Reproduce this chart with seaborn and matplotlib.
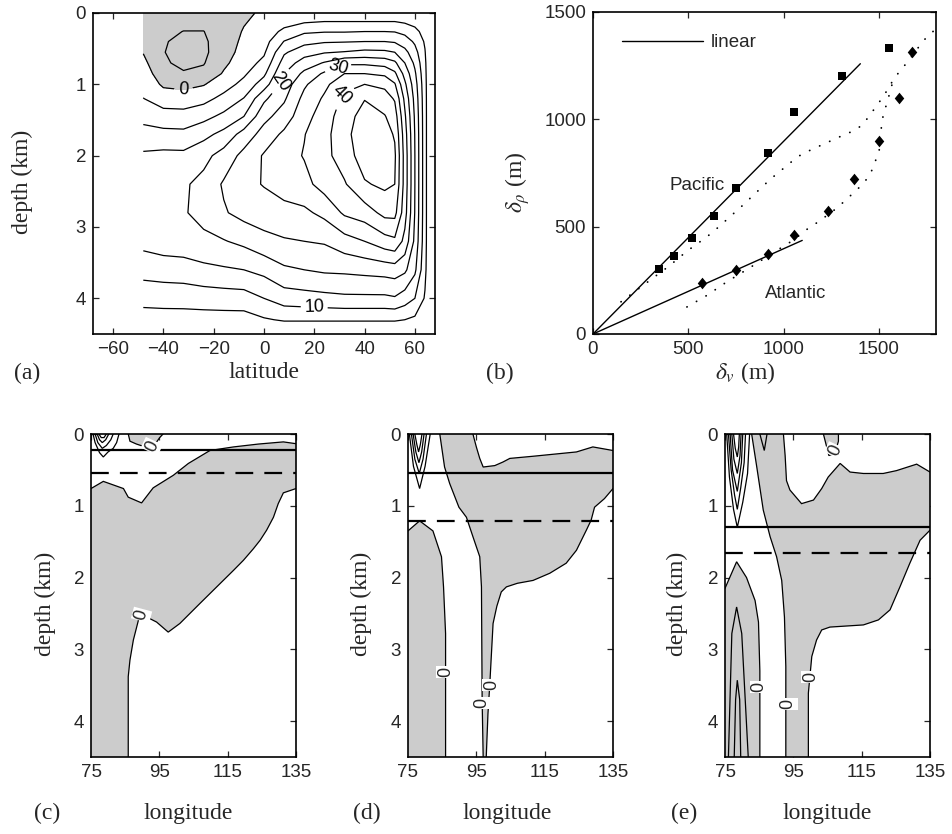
import numpy as np
import pandas as pd
import matplotlib
matplotlib.use("Agg")
import matplotlib.pyplot as plt
import seaborn as sns

# ---------------- (a) overturning streamfunction (Sv) on a coarse grid ----------------
lat_a = [-48, -40, -32, -24, -16, -8, 0, 8, 16, 24, 32, 40, 48, 52, 56, 60, 64, 66]
dep_a = [0, 0.12, 0.26, 0.4, 0.55, 0.7, 0.85, 1.0, 1.2, 1.45, 1.7, 2.0, 2.4, 2.8, 3.2, 3.6, 4.0, 4.3, 4.5]
# one column per latitude, values from the surface to the bottom
psi_a_cols = [
    [-1.5, -2.2, -2.5, -2.0, -0.2, 1.2, 2.4, 3.4, 5.1, 8.5, 11.8, 15.8, 18.0, 18.5, 16.5, 12.0, 6.5, 3.0, 0.3],
    [-1.5, -2.8, -3.8, -4.5, -4.8, -4.3, -2.8, -0.8, 2.6, 7.0, 11.5, 16.3, 18.5, 19.0, 17.5, 12.5, 6.8, 3.0, 0.3],
    [-1.5, -3.5, -5.1, -6.5, -7.0, -6.2, -4.5, -1.5, 2.4, 6.8, 11.3, 16.2, 19.3, 19.5, 17.8, 12.8, 6.9, 3.0, 0.3],
    [-1.5, -3.5, -5.1, -5.8, -6.0, -5.3, -3.8, -0.3, 3.4, 8.5, 13.5, 18.5, 21.5, 21.8, 18.7, 13.8, 7.3, 3.0, 0.3],
    [-1.0, -1.8, -2.2, -2.3, -2.0, -1.0, 0.5, 2.8, 6.5, 11.2, 16.5, 22.0, 25.6, 24.5, 19.7, 14.4, 7.6, 3.0, 0.3],
    [-0.6, -0.3, 0.3, 0.9, 1.6, 2.6, 4.2, 6.5, 10.2, 15.0, 22.0, 26.5, 28.5, 26.7, 21.2, 15.0, 7.8, 3.0, 0.3],
    [0.5, 1.2, 2.0, 3.0, 4.3, 6.3, 9.0, 12.5, 19.0, 23.5, 27.0, 30.5, 30.3, 27.5, 23.5, 16.5, 10.0, 4.5, 0.3],
    [0.5, 3.0, 6.2, 10.2, 14.3, 17.2, 20.0, 22.3, 24.3, 27.3, 31.0, 33.0, 32.0, 28.5, 24.5, 19.2, 12.5, 5.5, 0.3],
    [0.5, 4.4, 9.2, 13.5, 18.0, 22.2, 26.2, 29.2, 31.5, 33.3, 34.8, 35.3, 33.5, 29.0, 25.0, 20.0, 13.0, 5.5, 0.3],
    [0.5, 5.0, 9.7, 14.5, 19.6, 25.4, 30.8, 33.8, 35.7, 37.3, 38.3, 38.5, 37.0, 31.3, 25.5, 20.8, 13.5, 5.5, 0.3],
    [0.5, 5.0, 9.7, 14.7, 20.3, 29.0, 35.0, 38.4, 41.2, 43.0, 43.5, 42.5, 39.5, 35.8, 28.0, 21.0, 14.0, 5.5, 0.3],
    [0.5, 5.0, 10.0, 15.0, 21.3, 29.0, 35.0, 40.0, 44.8, 46.8, 48.0, 47.5, 44.5, 37.5, 30.0, 21.5, 14.0, 5.5, 0.3],
    [0.5, 5.0, 10.0, 15.0, 21.0, 28.0, 34.0, 38.8, 42.3, 45.3, 47.0, 47.5, 46.0, 41.5, 33.0, 22.0, 14.0, 5.5, 0.3],
    [0.5, 5.0, 9.8, 14.5, 20.0, 26.0, 31.0, 35.5, 39.5, 42.5, 44.5, 45.8, 45.0, 41.5, 34.0, 22.5, 14.5, 5.5, 0.3],
    [0.4, 4.3, 8.6, 12.5, 16.5, 20.0, 23.3, 26.0, 28.8, 30.8, 32.2, 33.0, 33.0, 32.0, 28.5, 21.0, 12.5, 5.0, 0.3],
    [0.3, 3.3, 6.4, 9.2, 11.8, 14.0, 15.8, 17.2, 18.4, 19.3, 19.8, 20.0, 20.0, 19.8, 18.8, 16.0, 10.0, 4.0, 0.3],
    [0.3, 1.7, 3.2, 4.4, 5.3, 6.0, 6.4, 6.7, 6.9, 7.0, 7.0, 7.0, 7.0, 7.0, 6.9, 6.3, 4.5, 2.0, 0.3],
    [0.3, 0.3, 0.3, 0.3, 0.3, 0.3, 0.3, 0.3, 0.3, 0.3, 0.3, 0.3, 0.3, 0.3, 0.3, 0.3, 0.3, 0.3, 0.3],
]
levels_a = [-5, 0, 5, 10, 15, 20, 25, 30, 35, 40, 45]
label_levels_a = [0, 10, 20, 30, 40]
label_lat_a = [-32, 20, 5.8, 29, 31]
label_dep_a = [1.1, 4.08, 0.94, 0.7, 1.15]

# ---------------- (b) delta_rho versus delta_v ----------------
pac_dv = [347, 427, 522, 635, 751, 917, 1054, 1306, 1551]
pac_dr = [302, 364, 447, 551, 679, 844, 1033, 1204, 1331]
atl_dv = [572, 749, 919, 1054, 1231, 1369, 1500, 1607, 1675]
atl_dr = [237, 296, 372, 461, 575, 723, 898, 1098, 1312]
pac_fit_dv = [0, 1403]
pac_fit_dr = [0, 1259]
atl_fit_dv = [0, 1098]
atl_fit_dr = [0, 436]
pac_dot_dv = [147, 300, 400, 493, 598, 647, 789, 837, 932, 1025, 1074, 1130, 1189, 1246,
              1303, 1361, 1414, 1451, 1488, 1524, 1558, 1577, 1616, 1658, 1705, 1747, 1789]
pac_dot_dr = [150, 251, 317, 386, 453, 489, 602, 643, 722, 790, 826, 852, 876, 899,
              922, 944, 973, 1018, 1062, 1108, 1155, 1188, 1230, 1276, 1332, 1379, 1413]
atl_dot_dv = [493, 598, 704, 809, 979, 1053, 1125, 1183, 1282, 1332, 1379, 1423, 1458,
              1481, 1502, 1514, 1524, 1542, 1560, 1577]
atl_dot_dr = [126, 180, 244, 301, 397, 438, 489, 523, 588, 629, 667, 705, 751,
              803, 857, 969, 1025, 1074, 1132, 1188]

# ---------------- (c) zero contours ----------------
c_top_lon = [75, 78.6, 84.5, 85.9, 89.8, 93.2, 99.1, 103.5, 109.8, 116.7, 124, 131.3, 135]
c_top_dep = [0.76, 0.66, 0.76, 0.88, 0.96, 0.75, 0.575, 0.41, 0.23, 0.18, 0.14, 0.11, 0.135]
c_bot_lon = [135, 131.3, 129.8, 128.4, 126.4, 124.5, 122.5, 119.6, 116.7, 111.8, 106.9,
             101, 97.6, 94.2, 91.3, 89.8, 88.9, 87.4, 86.4, 85.9, 85.9]
c_bot_dep = [0.76, 0.82, 0.97, 1.16, 1.34, 1.48, 1.6, 1.76, 1.9, 2.13, 2.36,
             2.64, 2.76, 2.62, 2.55, 2.52, 2.59, 2.87, 3.15, 3.38, 4.5]
c_patch_lon = [85.9, 86.4, 88.3, 90.2, 91.6, 93.5, 95.1, 96.1]
c_patch_dep = [0, 0.1, 0.14, 0.17, 0.23, 0.16, 0.05, 0]
c_jets_lon = [[75.6, 76.2, 77.5, 78.6, 80.0, 81.5, 82.5, 83.2],
              [76.2, 77.0, 78.3, 79.5, 80.8, 81.5],
              [76.8, 77.5, 78.3, 79.3, 80.2],
              [77.3, 78.0, 78.8, 79.5]]
c_jets_dep = [[0, 0.12, 0.26, 0.32, 0.25, 0.2, 0.12, 0],
              [0, 0.12, 0.2, 0.16, 0.08, 0],
              [0, 0.08, 0.12, 0.08, 0],
              [0, 0.05, 0.05, 0]]
c_label_lon = [89.8, 92.8]
c_label_dep = [2.52, 0.17]
c_label_rot = [75, 65]

# ---------------- (d) zero contours ----------------
d_left_lon = [75, 78.4, 82.3, 84.8, 85.4, 86, 86]
d_left_dep = [1.35, 1.21, 1.35, 1.71, 2.13, 2.78, 4.5]
d_cl_lon = [84.3, 85.7, 87.2, 89.9, 92.1, 94, 96, 96.5, 96.7, 97]
d_cl_dep = [0, 0.46, 0.69, 1.02, 1.16, 1.43, 1.71, 2.13, 3.71, 4.5]
d_cr_lon = [97.9, 98.4, 98.9, 99.9, 101, 102.3, 103.8, 107, 111.6, 116.5, 121.3, 124.3,
            127.2, 128.6, 129.6, 132.5, 135]
d_cr_dep = [4.5, 3.9, 3.52, 2.64, 2.4, 2.2, 2.13, 2.08, 2.04, 1.94, 1.8, 1.62,
            1.34, 1.2, 1.02, 0.9, 0.76]
d_ct_lon = [94, 95, 96, 97, 100.4, 102.8, 104.8, 111.6, 124.3, 129.1, 135]
d_ct_dep = [0, 0.18, 0.34, 0.46, 0.44, 0.39, 0.34, 0.31, 0.25, 0.18, 0.23]
d_jets_lon = [[75.4, 76.6, 78.4, 80.0, 81.5],
              [76.0, 77.0, 78.3, 79.4, 80.4],
              [76.5, 77.3, 78.2, 79.0, 79.7],
              [77.0, 77.6, 78.1, 78.6, 79.1]]
d_jets_dep = [[0, 0.45, 0.76, 0.45, 0],
              [0, 0.35, 0.55, 0.35, 0],
              [0, 0.25, 0.40, 0.25, 0],
              [0, 0.15, 0.25, 0.15, 0]]
d_label_lon = [86, 96.5, 99.4]
d_label_dep = [3.31, 3.75, 3.5]
d_label_rot = [90, 90, 90]

# ---------------- (e) zero contours ----------------
e_lb_lon = [75, 78.4, 81.3, 83.8, 84.8, 85.2, 85.2]
e_lb_dep = [2.15, 1.78, 2.0, 2.32, 2.62, 3.3, 4.5]
e_core_lon = [[76, 77, 78.4, 79.9, 81.8], [77.7, 78.1, 78.6, 79.3, 79.6]]
e_core_dep = [[4.5, 2.78, 2.41, 2.78, 4.5], [4.5, 3.7, 3.43, 3.7, 4.5]]
e_cl_lon = [82.8, 84.3, 86.2, 88.2, 90.1, 91.6, 92.4, 92.8, 92.8]
e_cl_dep = [0, 0.46, 1.06, 1.43, 1.71, 2.04, 2.55, 3.24, 4.5]
e_cr_lon = [99.4, 99.4, 100.4, 101.8, 103.3, 105.7, 115.5, 119.9, 123.3, 126.2, 129.1, 132.1, 135]
e_cr_dep = [4.5, 3.61, 3.1, 2.87, 2.73, 2.69, 2.66, 2.59, 2.45, 2.13, 1.8, 1.48, 1.34]
e_ct_lon = [92.1, 92.6, 93, 94, 97.4, 100.9, 103.3, 105.2, 108.7, 111.6, 115.5, 121.3, 125.2, 131.1, 135]
e_ct_dep = [0, 0.3, 0.65, 0.78, 0.97, 0.92, 0.76, 0.6, 0.41, 0.53, 0.55, 0.55, 0.51, 0.42, 0.53]
e_patch_lon = [103.8, 104.6, 105.4, 106.6, 107.6, 108.2, 108.2]
e_patch_dep = [0, 0.15, 0.3, 0.28, 0.2, 0.1, 0]
e_notch_lon = [85.2, 86.5, 87.3]
e_notch_dep = [0, 0.23, 0]
e_jets_lon = [[75.5, 76.3, 77.5, 78.6, 80.2, 81.6, 82.2],
              [76.0, 76.8, 77.8, 78.6, 79.6, 80.6, 81.0],
              [76.5, 77.2, 78.6, 79.8, 80.2],
              [77.0, 77.6, 78.6, 79.4, 79.7],
              [77.5, 78.0, 78.6, 79.0, 79.2]]
e_jets_dep = [[0, 0.6, 1.05, 1.3, 0.95, 0.55, 0],
              [0, 0.5, 0.85, 1.05, 0.75, 0.4, 0],
              [0, 0.5, 0.8, 0.4, 0],
              [0, 0.35, 0.55, 0.3, 0],
              [0, 0.2, 0.32, 0.18, 0]]
e_label_lon = [85.0, 93.5, 100.0, 107.2]
e_label_dep = [3.53, 3.76, 3.38, 0.23]
e_label_rot = [90, 90, 90, 65]

solid_dep = [0.22, 0.55, 1.30]
dashed_dep = [0.55, 1.21, 1.66]

# ---------------- style ----------------
sns.set_style("ticks")
plt.rcParams["font.family"] = ["Liberation Sans", "DejaVu Sans"]
plt.rcParams["mathtext.fontset"] = "stix"
plt.rcParams["axes.linewidth"] = 1.2
plt.rcParams["contour.negative_linestyle"] = "solid"
SERIF = ["Liberation Serif", "DejaVu Serif"]
GRAY = "#cccccc"
TICK_FS = 13.5
LAB_FS = 17

W, H = 952, 834
fig = plt.figure(figsize=(W / 100, H / 100), dpi=100)


def add_ax(l, t, r, b):
    return fig.add_axes([l / W, 1 - b / H, (r - l) / W, (b - t) / H])


def style_ax(ax):
    ax.tick_params(direction="in", top=True, right=True, length=4, width=0.9,
                   labelsize=TICK_FS, pad=5)
    for s in ax.spines.values():
        s.set_visible(True)
        s.set_linewidth(1.2)
        s.set_color("black")


def ftext(x, y, s, **kw):
    fig.text(x / W, 1 - y / H, s, ha="center", va="center", **kw)


axA = add_ax(93, 13, 435, 334)
axB = add_ax(593, 12, 936, 334)
axC = add_ax(91, 434, 296, 757)
axD = add_ax(408, 434, 613, 757)
axE = add_ax(725, 434, 930, 757)

# ---------------- panel (a) ----------------
LATg, DEPg = np.meshgrid(lat_a, dep_a)
PSI = np.array(psi_a_cols).T
axA.contourf(LATg, DEPg, PSI, levels=[-100, 0], colors=[GRAY])
other_levels = [v for v in levels_a if v not in label_levels_a]
axA.contour(LATg, DEPg, PSI, levels=other_levels, colors="black", linewidths=0.9,
            linestyles="solid")
cs_lab = axA.contour(LATg, DEPg, PSI, levels=label_levels_a, colors="black", linewidths=0.9,
                     linestyles="solid")
axA.clabel(cs_lab, manual=list(zip(label_lat_a, label_dep_a)),
           fmt="%d", fontsize=13, inline=True, inline_spacing=6)
axA.set_xlim(-68, 68)
axA.set_ylim(4.5, 0)
axA.set_xticks([-60, -40, -20, 0, 20, 40, 60])
axA.set_yticks([0, 1, 2, 3, 4])
style_ax(axA)

# ---------------- panel (b) ----------------
pac = pd.DataFrame({"dv": pac_dv, "dr": pac_dr})
atl = pd.DataFrame({"dv": atl_dv, "dr": atl_dr})
diamond = [(0, 1), (0.82, 0), (0, -1), (-0.82, 0)]
dotls = (0, (0.1, 6))
sns.lineplot(x=pac_dot_dv, y=pac_dot_dr, sort=False, estimator=None, color="black",
             lw=1.3, linestyle=dotls, dash_capstyle="round", ax=axB)
sns.lineplot(x=atl_dot_dv, y=atl_dot_dr, sort=False, estimator=None, color="black",
             lw=1.3, linestyle=dotls, dash_capstyle="round", ax=axB)
sns.lineplot(x=pac_fit_dv, y=pac_fit_dr, sort=False, estimator=None, color="black",
             lw=1.0, ax=axB)
lin_handle = axB.lines[-1]
sns.lineplot(x=atl_fit_dv, y=atl_fit_dr, sort=False, estimator=None, color="black",
             lw=1.0, ax=axB)
sns.scatterplot(data=pac, x="dv", y="dr", marker="s", s=32, color="black",
                edgecolor="black", linewidth=0, ax=axB, zorder=4)
sns.scatterplot(data=atl, x="dv", y="dr", marker=diamond, s=70, color="black",
                edgecolor="black", linewidth=0, ax=axB, zorder=4)
axB.legend([lin_handle], ["linear"], loc="center left",
           bbox_to_anchor=(29 / 343, 1 - 30.7 / 322), borderaxespad=0, borderpad=0,
           handlelength=4.3, handletextpad=0.45, frameon=False, fontsize=13.5)
axB.text(547, 694, "Pacific", ha="center", va="center", fontsize=13.5)
axB.text(1063, 190, "Atlantic", ha="center", va="center", fontsize=13.5)
axB.set_xlim(0, 1800)
axB.set_ylim(0, 1500)
axB.set_xticks([0, 500, 1000, 1500])
axB.set_yticks([0, 500, 1000, 1500])
axB.set_xlabel("")
axB.set_ylabel("")
style_ax(axB)


# ---------------- panels (c)-(e) ----------------
def contour_line(ax, lon, dep, lw=0.9):
    ax.plot(lon, dep, color="black", lw=lw, zorder=3, solid_joinstyle="miter")


def zero_label(ax, x, y, rot):
    ax.text(x, y, "0", rotation=rot, ha="center", va="center", fontsize=13, zorder=5,
            bbox=dict(boxstyle="square,pad=0.05", fc="white", ec="none"))


def finish_lon(ax, sd, dd):
    ax.axhline(sd, color="black", lw=1.6, zorder=4)
    ax.axhline(dd, color="black", lw=1.6, dashes=(8, 5), zorder=4)
    ax.set_xlim(75, 135)
    ax.set_ylim(4.5, 0)
    ax.set_xticks([75, 95, 115, 135])
    ax.set_yticks([0, 1, 2, 3, 4])
    style_ax(ax)


# (c)
axC.fill(c_top_lon + c_bot_lon + [75], c_top_dep + c_bot_dep + [4.5], color=GRAY, lw=0, zorder=1)
axC.fill(c_patch_lon, c_patch_dep, color=GRAY, lw=0, zorder=1)
contour_line(axC, c_top_lon, c_top_dep)
contour_line(axC, c_bot_lon, c_bot_dep)
contour_line(axC, c_patch_lon, c_patch_dep)
for lo, de in zip(c_jets_lon, c_jets_dep):
    contour_line(axC, lo, de)
for x, y, r in zip(c_label_lon, c_label_dep, c_label_rot):
    zero_label(axC, x, y, r)
finish_lon(axC, solid_dep[0], dashed_dep[0])

# (d)
axD.fill(d_left_lon + [75], d_left_dep + [4.5], color=GRAY, lw=0, zorder=1)
axD.fill(d_cl_lon + d_cr_lon + d_ct_lon[::-1], d_cl_dep + d_cr_dep + d_ct_dep[::-1],
         color=GRAY, lw=0, zorder=1)
contour_line(axD, d_left_lon, d_left_dep)
contour_line(axD, d_cl_lon, d_cl_dep)
contour_line(axD, d_cr_lon, d_cr_dep)
contour_line(axD, d_ct_lon, d_ct_dep)
for lo, de in zip(d_jets_lon, d_jets_dep):
    contour_line(axD, lo, de)
for x, y, r in zip(d_label_lon, d_label_dep, d_label_rot):
    zero_label(axD, x, y, r)
finish_lon(axD, solid_dep[1], dashed_dep[1])

# (e)
axE.fill(e_lb_lon + [75], e_lb_dep + [4.5], color=GRAY, lw=0, zorder=1)
axE.fill(e_cl_lon + e_cr_lon + e_ct_lon[::-1], e_cl_dep + e_cr_dep + e_ct_dep[::-1],
         color=GRAY, lw=0, zorder=1)
axE.fill(e_patch_lon, e_patch_dep, color=GRAY, lw=0, zorder=1)
contour_line(axE, e_lb_lon, e_lb_dep)
contour_line(axE, e_cl_lon, e_cl_dep)
contour_line(axE, e_cr_lon, e_cr_dep)
contour_line(axE, e_ct_lon, e_ct_dep)
contour_line(axE, e_patch_lon, e_patch_dep)
contour_line(axE, e_notch_lon, e_notch_dep)
for lo, de in zip(e_core_lon, e_core_dep):
    contour_line(axE, lo, de)
for lo, de in zip(e_jets_lon, e_jets_dep):
    contour_line(axE, lo, de)
for x, y, r in zip(e_label_lon, e_label_dep, e_label_rot):
    zero_label(axE, x, y, r)
finish_lon(axE, solid_dep[2], dashed_dep[2])

# ---------------- labels ----------------
ftext(27, 373, "(a)", family=SERIF, fontsize=LAB_FS)
ftext(264, 373, "latitude", family=SERIF, fontsize=LAB_FS)
ftext(22, 182, "depth (km)", family=SERIF, fontsize=LAB_FS, rotation=90)
ftext(500, 373, "(b)", family=SERIF, fontsize=LAB_FS)
ftext(745, 373, r"$\delta_v$ (m)", family=SERIF, fontsize=LAB_FS)
ftext(518, 182, r"$\delta_\rho$ (m)", family=SERIF, fontsize=LAB_FS, rotation=90)
for tag, px, lx, yl in [("(c)", 47, 188, 45), ("(d)", 367, 507, 361), ("(e)", 684, 827, 677)]:
    ftext(px, 813, tag, family=SERIF, fontsize=LAB_FS)
    ftext(lx, 813, "longitude", family=SERIF, fontsize=LAB_FS)
    ftext(yl, 604, "depth (km)", family=SERIF, fontsize=LAB_FS, rotation=90)

fig.savefig("out.png", dpi=100)
